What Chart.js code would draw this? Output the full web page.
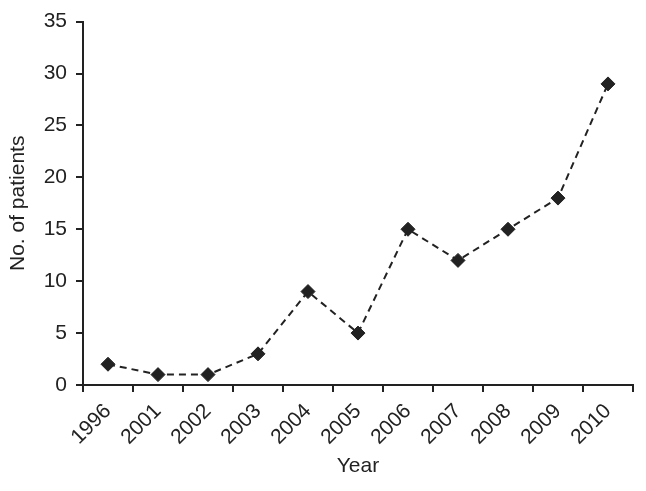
<!DOCTYPE html>
<html>
<head>
<meta charset="utf-8">
<script src="https://cdn.jsdelivr.net/npm/chart.js@4/dist/chart.umd.min.js"></script>
<style>
html,body{margin:0;padding:0;background:#fff;}
#wrap{width:646px;height:491px;}
</style>
</head>
<body>
<div id="wrap"><canvas id="c" width="646" height="491"></canvas></div>
<script>
const years = ["1996","2001","2002","2003","2004","2005","2006","2007","2008","2009","2010"];
const patients = [2,1,1,3,9,5,15,12,15,18,29];
const yTicks = [0,5,10,15,20,25,30,35];

const ink = '#222222';
const font = {family: 'Liberation Sans, Arial, sans-serif', size: 21};

new Chart(document.getElementById('c'), {
  type: 'line',
  data: {
    labels: years,
    datasets: [{
      data: patients,
      borderColor: ink,
      borderWidth: 2,
      borderDash: [7,5],
      pointStyle: 'rectRot',
      pointRadius: 7,
      pointBorderWidth: 1,
      pointBackgroundColor: ink,
      pointBorderColor: ink,
      tension: 0,
      fill: false
    }]
  },
  options: {
    responsive: false,
    animation: false,
    devicePixelRatio: 1,
    layout: {padding: {left: 0, right: 13, top: 20, bottom: 0}},
    plugins: {legend: {display: false}, tooltip: {enabled: false}},
    scales: {
      x: {
        offset: true,
        grid: {offset: true, drawOnChartArea: false, drawTicks: true, tickLength: 7, color: ink, lineWidth: 2},
        border: {color: ink, width: 2},
        ticks: {color: ink, font: font, maxRotation: 45, minRotation: 45, padding: 7, autoSkip: false},
        title: {display: true, text: 'Year', color: ink, font: font, padding: {top: 0, bottom: 12}},
        afterFit: (s) => { s.height = 106; }
      },
      y: {
        min: 0, max: 35,
        afterBuildTicks: (s) => { s.ticks = yTicks.map(v => ({value: v})); },
        grid: {drawOnChartArea: false, drawTicks: true, tickLength: 7, color: ink, lineWidth: 2},
        border: {color: ink, width: 2},
        ticks: {color: ink, font: font, padding: 9},
        title: {display: true, text: 'No. of patients', color: ink, font: font, padding: {top: 6, bottom: 0}},
        afterFit: (s) => { s.width = 83; }
      }
    }
  }
});
</script>
</body>
</html>
